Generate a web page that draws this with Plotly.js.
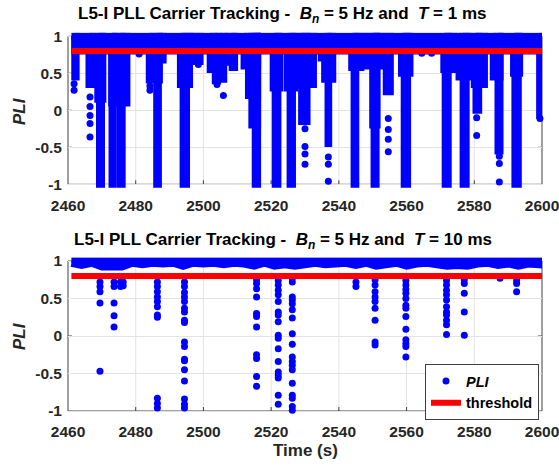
<!DOCTYPE html>
<html><head><meta charset="utf-8">
<script src="https://cdn.plot.ly/plotly-3.0.1.min.js"></script>
<style>html,body{margin:0;padding:0;background:#fff;}#chart{width:559px;height:466px;}</style>
</head><body><div id="chart"></div>
<script>
// ---------- shared ----------
const timeTicks = [2460, 2480, 2500, 2520, 2540, 2560, 2580, 2600];
const pliTicks = [-1, -0.5, 0, 0.5, 1];
const pliTickText = ['-1', '-0.5', '0', '0.5', '1'];
const thresholdTime = [2461, 2600];
const thresholdValue = [0.8, 0.8];

// ---------- top panel: T = 1 ms (very dense samples) ----------
// dense band of samples near PLI = 1
const bandTime1 = [2461, 2599.3];
const bandLow1 = [0.8, 0.8];
// dense columns of samples dropping below the band (start time, end time, lowest PLI)
const colStart1 = [2462.0, 2466.2, 2468.8, 2469.3, 2473.0, 2475.5, 2472.9, 2484.0, 2486.2, 2487.3, 2494.0, 2493.2, 2496.0, 2502.0, 2503.5, 2505.0, 2506.5, 2508.5, 2515.3, 2512.0, 2513.3, 2514.3, 2520.6, 2521.2, 2524.8, 2525.6, 2528.2, 2529.0, 2534.8, 2535.8, 2536.8, 2543.8, 2544.5, 2547.5, 2550.0, 2550.4, 2554.0, 2558.5, 2559.3, 2571.0, 2571.4, 2575.5, 2576.7, 2580.0, 2580.5, 2585.6, 2587.0, 2591.6, 2592.0, 2599.3];
const colEnd1   = [2462.4, 2467.6, 2470.3, 2469.9, 2473.4, 2476.0, 2477.4, 2487.0, 2486.7, 2488.1, 2495.0, 2495.9, 2499.0, 2503.0, 2504.2, 2506.0, 2508.5, 2509.2, 2516.0, 2516.0, 2516.0, 2516.0, 2522.6, 2522.0, 2527.0, 2526.3, 2532.5, 2530.6, 2534.8, 2538.2, 2537.0, 2546.5, 2545.0, 2553.0, 2551.3, 2551.0, 2555.2, 2561.0, 2560.3, 2574.0, 2572.3, 2578.5, 2577.6, 2583.0, 2581.3, 2587.6, 2587.6, 2593.4, 2593.0, 2599.5];
const colLow1   = [0.45, 0.35, 0.15, -1, -1, -1, 0.1, 0.41, -1, 0.68, -1, 0.35, 0.66, 0.55, 0.40, 0.42, 0.65, 0.58, -1, 0.6, 0.2, -0.2, 0.3, -1, 0.3, -1, 0.35, -0.15, 0.66, 0.42, -0.45, 0.58, -1, 0.6, -0.2, -1, 0.25, 0.5, -1, 0.55, -1, 0.45, -1, 0.35, 0.0, 0.45, -0.55, 0.5, -1, -0.07];
// isolated samples
const dotTime1 = [2461.8, 2461.8, 2466.5, 2466.5, 2466.5, 2466.5, 2466.5, 2481.0, 2484.2, 2484.2, 2498.5, 2505.9, 2504.0, 2530.0, 2530.0, 2530.0, 2530.0, 2536.9, 2536.9, 2536.9, 2554.6, 2554.6, 2554.6, 2554.6, 2564.5, 2567.4, 2580.7, 2580.7, 2587.4, 2587.4, 2587.4, 2599.4];
const dotPli1  = [0.36, 0.27, 0.18, 0.05, -0.07, -0.18, -0.36, 0.76, 0.33, 0.27, 0.62, 0.2, 0.35, -0.25, -0.49, -0.59, -0.73, -0.63, -0.73, -0.96, -0.11, -0.26, -0.39, -0.56, 0.77, 0.77, -0.1, -0.34, -0.62, -0.72, -0.97, -0.11];

// ---------- bottom panel: T = 10 ms ----------
const bandTime2 = [2461, 2464, 2467, 2470, 2473, 2476, 2479, 2482, 2485, 2488, 2491, 2494, 2497, 2500, 2503, 2506, 2509, 2512, 2515, 2518, 2521, 2524, 2527, 2530, 2533, 2536, 2539, 2542, 2545, 2548, 2551, 2554, 2557, 2560, 2563, 2566, 2569, 2572, 2575, 2578, 2581, 2584, 2587, 2590, 2593, 2596, 2599.3];
const bandLow2  = [0.97, 0.94, 0.97, 0.92, 0.93, 0.92, 0.97, 0.95, 0.97, 0.96, 0.97, 0.93, 0.97, 0.96, 0.97, 0.95, 0.97, 0.96, 0.93, 0.97, 0.93, 0.95, 0.93, 0.94, 0.97, 0.95, 0.96, 0.97, 0.94, 0.97, 0.93, 0.96, 0.97, 0.93, 0.96, 0.97, 0.95, 0.93, 0.94, 0.93, 0.96, 0.97, 0.94, 0.96, 0.93, 0.96, 0.95];
const dotTime2 = [
  2469.45, 2469.45, 2469.45, 2469.45, 2469.45,
  2473.6, 2473.6, 2473.6, 2473.6, 2473.6,
  2475.5, 2476.3, 2475.5, 2476.3,
  2486.4, 2486.4, 2486.4, 2486.4, 2486.4, 2486.4, 2486.4, 2486.4, 2486.4, 2486.4, 2486.4,
  2494.4, 2494.4, 2494.4, 2494.4, 2494.4, 2494.4, 2494.4, 2494.4, 2494.4, 2494.4, 2494.4, 2494.4, 2494.4, 2494.4, 2494.4, 2494.4, 2494.4, 2494.4,
  2515.7, 2515.7, 2515.7, 2515.7, 2515.7, 2515.7, 2515.7, 2515.7, 2515.7, 2515.7, 2515.7,
  2522.1, 2522.1, 2522.1, 2522.1, 2522.1, 2522.1, 2522.1, 2522.1, 2522.1, 2522.1, 2522.1, 2522.1, 2522.1, 2522.1, 2522.1, 2522.1, 2522.1,
  2526.25, 2526.25, 2526.25, 2526.25, 2526.25, 2526.25, 2526.25, 2526.25, 2526.25, 2526.25, 2526.25, 2526.25, 2526.25, 2526.25, 2526.25, 2526.25, 2526.25, 2526.25,
  2545.05, 2545.05,
  2550.7, 2550.7, 2550.7, 2550.7, 2550.7, 2550.7, 2550.7, 2550.7, 2550.7,
  2559.8, 2559.8, 2559.8, 2559.8, 2559.8, 2559.8, 2559.8, 2559.8, 2559.8, 2559.8, 2559.8, 2559.8, 2559.8,
  2571.8, 2571.8, 2571.8, 2571.8, 2571.8, 2571.8, 2571.8, 2571.8, 2571.8, 2571.8, 2571.8,
  2577.05, 2577.05, 2577.05, 2577.05, 2577.05,
  2587.6,
  2592.5, 2592.5, 2592.5];
const dotPli2 = [
  0.72, 0.66, 0.59, 0.44, -0.47,
  0.72, 0.66, 0.44, 0.27, 0.12,
  0.72, 0.72, 0.66, 0.67,
  0.72, 0.66, 0.59, 0.52, 0.46, 0.39, 0.28, 0.25, -0.83, -0.90, -0.96,
  0.72, 0.66, 0.58, 0.52, 0.46, 0.37, 0.32, 0.21, 0.18, -0.08, -0.14, -0.31, -0.33, -0.45, -0.60, -0.84, -0.91, -0.96,
  0.75, 0.70, 0.63, 0.52, 0.30, 0.26, 0.12, -0.25, -0.30, -0.54, -0.67,
  0.74, 0.68, 0.61, 0.55, 0.46, 0.32, 0.28, 0.19, 0.01, -0.03, -0.17, -0.34, -0.48, -0.52, -0.56, -0.79, -0.91,
  0.77, 0.72, 0.52, 0.48, 0.43, 0.35, 0.24, 0.03, -0.11, -0.28, -0.34, -0.39, -0.45, -0.63, -0.79, -0.83, -0.94, -0.99,
  0.72, 0.66,
  0.75, 0.68, 0.59, 0.52, 0.46, 0.37, 0.21, -0.08, -0.12,
  0.74, 0.68, 0.62, 0.57, 0.50, 0.41, 0.37, 0.26, 0.09, -0.05, -0.10, -0.14, -0.28,
  0.74, 0.68, 0.61, 0.55, 0.48, 0.39, 0.32, 0.28, 0.21, 0.15, 0.02,
  0.75, 0.70, 0.57, 0.32, 0.01,
  0.77,
  0.74, 0.70, 0.59];

// ---------- geometry (pixels of the 559x466 figure) ----------
const W = 559, H = 466;
const px = v => v / W, py = v => 1 - v / H;
const axL = 68, axR = 542;
const top1 = 36.3, bot1 = 184.3;   // y=1 and y=-1 of upper panel
const top2 = 261, bot2 = 411;      // y=1 and y=-1 of lower panel
const pad = 0.05;
function dom(t, b) { const s = (b - t) / 2; return [py(b + pad * s), py(t - pad * s)]; }

const BLUE = '#0000ff', RED = '#ff0000', INK = '#262626', AXC = '#404040';

function columnPolys(starts, ends, lows) {
  const x = [], y = [];
  for (let i = 0; i < starts.length; i++) {
    x.push(starts[i], ends[i], ends[i], starts[i], starts[i], null);
    y.push(1, 1, lows[i], lows[i], 1, null);
  }
  return {x, y};
}
function bandPoly(ts, lows) {
  const x = ts.slice(), y = ts.map(() => 1);
  for (let i = ts.length - 1; i >= 0; i--) { x.push(ts[i]); y.push(lows[i]); }
  return {x, y};
}
function denseTrace(poly, xa, ya) {
  return {x: poly.x, y: poly.y, xaxis: xa, yaxis: ya, type: 'scatter', mode: 'lines',
    fill: 'toself', fillcolor: BLUE, line: {color: BLUE, width: 7}, showlegend: false, hoverinfo: 'skip'};
}

const b1 = bandPoly(bandTime1, bandLow1);
const c1 = columnPolys(colStart1, colEnd1, colLow1);
const b2 = bandPoly(bandTime2, bandLow2);

const traces = [
  denseTrace(b1, 'x', 'y'),
  denseTrace(c1, 'x', 'y'),
  {x: dotTime1, y: dotPli1, xaxis: 'x', yaxis: 'y', type: 'scatter', mode: 'markers', cliponaxis: false,
   marker: {color: BLUE, size: 7}, showlegend: false},
  {x: thresholdTime, y: thresholdValue, xaxis: 'x', yaxis: 'y', type: 'scatter', mode: 'lines',
   line: {color: RED, width: 6}, showlegend: false},
  denseTrace(b2, 'x2', 'y2'),
  {x: dotTime2, y: dotPli2, xaxis: 'x2', yaxis: 'y2', type: 'scatter', mode: 'markers', cliponaxis: false,
   marker: {color: BLUE, size: 7}, name: '<i>PLI</i>', showlegend: true},
  {x: thresholdTime, y: thresholdValue, xaxis: 'x2', yaxis: 'y2', type: 'scatter', mode: 'lines',
   line: {color: RED, width: 6}, name: 'threshold', showlegend: true}
];

const FAM = 'Liberation Sans, Arial, sans-serif';
const tickFont = {family: FAM, size: 15.5, color: INK, weight: 'bold'};
function xAxis(anchor) {
  return {domain: [px(axL), px(axR)], range: [2460, 2600], anchor: anchor, tickvals: timeTicks,
    showgrid: false, zeroline: false, showline: false, ticks: '', ticklabelstandoff: 6,
    ticklabeloverflow: 'allow', tickfont: tickFont, fixedrange: true};
}
function yAxis(anchor, t, b) {
  return {domain: dom(t, b), range: [-1 - pad, 1 + pad], anchor: anchor, tickvals: pliTicks, ticktext: pliTickText,
    showgrid: true, gridcolor: '#e3e3e3', gridwidth: 1, zeroline: false, showline: false, ticks: '',
    ticklabelstandoff: 5, ticklabeloverflow: 'allow', tickfont: tickFont, fixedrange: true};
}

const shapes = [];
[[top1, bot1, 'x', 'y'], [top2, bot2, 'x2', 'y2']].forEach(([t, b, xr, yr]) => {
  timeTicks.slice(1, -1).forEach(v => {
    shapes.push({type: 'line', xref: xr, yref: 'paper', x0: v, x1: v,
      y0: py(b), y1: py(t), line: {color: '#e3e3e3', width: 1}, layer: 'below'});
    // small inside tick marks at the lower axis
    shapes.push({type: 'line', xref: xr, yref: 'paper', x0: v, x1: v,
      y0: py(b), y1: py(b - 4), line: {color: AXC, width: 1}, layer: 'between'});
  });
  const ln = {color: AXC, width: 1};
  shapes.push({type: 'line', xref: 'paper', yref: 'paper', x0: px(axL), x1: px(axL), y0: py(b), y1: py(t), line: ln, layer: 'between'});
  shapes.push({type: 'line', xref: 'paper', yref: 'paper', x0: px(axR), x1: px(axR), y0: py(b), y1: py(t), line: ln, layer: 'between'});
  shapes.push({type: 'line', xref: 'paper', yref: 'paper', x0: px(axL), x1: px(axR), y0: py(b), y1: py(b), line: ln, layer: 'between'});
  shapes.push({type: 'line', xref: 'paper', yref: 'paper', x0: px(axL), x1: px(axR), y0: py(t), y1: py(t), line: ln, layer: 'between'});
  [-0.5, 0, 0.5].forEach(v => {
    shapes.push({type: 'line', xref: 'paper', yref: yr, x0: px(axL), x1: px(axL + 4), y0: v, y1: v, line: ln, layer: 'between'});
    shapes.push({type: 'line', xref: 'paper', yref: yr, x0: px(axR - 4), x1: px(axR), y0: v, y1: v, line: ln, layer: 'between'});
  });
});

const titleFont = {family: FAM, size: 17, color: '#000', weight: 'bold'};
const labFont = {family: FAM, size: 17, color: INK, weight: 'bold'};
const sp = '\u00a0';
const annotations = [
  {text: 'L5-I PLL Carrier Tracking -' + sp + sp + '<i>B</i><sub><i>n</i></sub> = 5 Hz and' + sp + sp + '<i>T</i> = 1 ms',
   xref: 'paper', yref: 'paper', x: px(76), y: py(15), xanchor: 'left', yanchor: 'middle', showarrow: false, font: titleFont},
  {text: 'L5-I PLL Carrier Tracking -' + sp + sp + '<i>B</i><sub><i>n</i></sub> = 5 Hz and' + sp + sp + '<i>T</i> = 10 ms',
   xref: 'paper', yref: 'paper', x: px(72), y: py(241), xanchor: 'left', yanchor: 'middle', showarrow: false, font: titleFont},
  {text: '<i>PLI</i>', xref: 'paper', yref: 'paper', x: px(19), y: py(111), textangle: -90,
   xanchor: 'center', yanchor: 'middle', showarrow: false, font: labFont},
  {text: '<i>PLI</i>', xref: 'paper', yref: 'paper', x: px(19), y: py(336), textangle: -90,
   xanchor: 'center', yanchor: 'middle', showarrow: false, font: labFont},
  {text: 'Time (s)', xref: 'paper', yref: 'paper', x: px(305), y: py(450),
   xanchor: 'center', yanchor: 'middle', showarrow: false, font: labFont}
];

const layout = {
  width: W, height: H, margin: {l: 0, r: 0, t: 0, b: 0},
  paper_bgcolor: '#fff', plot_bgcolor: 'rgba(0,0,0,0)',
  xaxis: xAxis('y'), yaxis: yAxis('x', top1, bot1),
  xaxis2: xAxis('y2'), yaxis2: yAxis('x2', top2, bot2),
  shapes: shapes, annotations: annotations,
  showlegend: true,
  legend: {x: px(425), y: py(364), xanchor: 'left', yanchor: 'top', bgcolor: '#fff',
    bordercolor: AXC, borderwidth: 1, font: {family: FAM, size: 14.5, color: '#000', weight: 'bold'},
    tracegroupgap: 0}
};

Plotly.newPlot('chart', traces, layout, {displayModeBar: false, staticPlot: true});
</script></body></html>
